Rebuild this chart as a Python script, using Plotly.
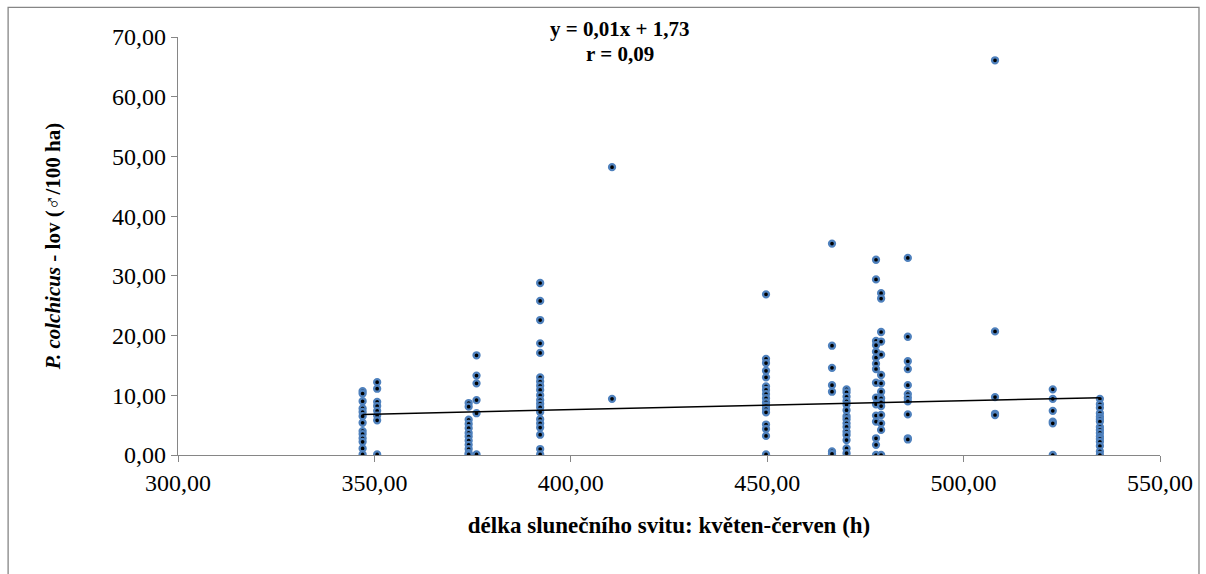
import plotly.graph_objects as go

# x positions (sunshine hours) of each column of observations
column_x = [347.0, 350.7, 374.0, 376.0, 392.2, 410.5, 449.7, 466.5, 470.2,
            477.7, 479.0, 485.8, 508.0, 522.7, 534.7]

# y values (P. colchicus, males / 100 ha) for each column
y_347 = [10.7, 10.3, 9.0, 7.8, 7.2, 6.5, 5.4, 4.0, 3.5, 2.8, 2.2, 1.1, 0.1]
y_351 = [12.2, 11.1, 8.9, 8.2, 7.4, 6.6, 5.8, 0.1]
y_374 = [8.7, 8.1, 5.9, 5.2, 4.5, 3.7, 3.1, 2.4, 1.7, 1.0, 0.3, 0.1]
y_376 = [16.7, 13.3, 12.0, 9.2, 7.0, 0.1]
y_392 = [28.8, 25.8, 22.6, 18.7, 17.1, 13.0, 12.3, 11.6, 10.9, 10.0, 9.2, 8.6,
         8.0, 7.2, 6.0, 5.3, 4.6, 3.4, 1.0, 0.1]
y_410 = [48.2, 9.4]
y_450 = [26.9, 16.1, 15.4, 14.1, 13.0, 11.5, 10.9, 10.2, 9.5, 8.8, 8.25, 7.7,
         7.15, 5.1, 4.35, 3.2, 0.1]
y_467 = [35.4, 18.3, 14.6, 11.7, 10.6, 0.6, 0.2]
y_471 = [11.0, 10.5, 9.75, 9.0, 8.4, 7.5, 6.5, 6.0, 5.3, 4.7, 3.9, 3.35, 2.5,
         1.1, 0.3]
y_478a = [32.7, 29.4, 19.1, 18.4, 17.3, 16.3, 15.3, 14.4, 12.1, 9.6, 8.5, 6.6,
          5.6, 2.8, 1.7, 0.0]
y_479 = [27.1, 26.2, 20.6, 19.0, 16.8, 13.4, 12.0, 10.6, 9.5, 8.8, 8.2, 6.7,
         5.3, 4.2, 0.0]
y_486 = [33.0, 19.8, 15.7, 14.4, 11.7, 10.2, 9.6, 9.0, 6.8, 2.8, 2.6]
y_508 = [66.1, 20.7, 9.7, 6.9, 6.7]
y_523 = [11.0, 9.4, 7.4, 5.6, 5.3, 0.0]
y_535 = [9.4, 8.5, 7.9, 7.0, 6.4, 6.0, 5.6, 4.7, 4.2, 3.7, 3.1, 2.7, 2.2, 1.5,
         0.6, 0.0]

column_y = [y_347, y_351, y_374, y_376, y_392, y_410, y_450, y_467, y_471,
            y_478a, y_479, y_486, y_508, y_523, y_535]

# linear trend
trend_slope = 0.0149
trend_intercept = 1.63

x_ticks = [300, 350, 400, 450, 500, 550]
y_ticks = [0, 10, 20, 30, 40, 50, 60, 70]

equation_text = "y = 0,01x + 1,73"
r_text = "r = 0,09"

xs, ys = [], []
for cx, vals in zip(column_x, column_y):
    for v in vals:
        xs.append(cx)
        ys.append(v)

x_min, x_max = min(xs), max(xs)

FONT = "Liberation Serif"
AXIS_GREY = "#868686"

fig = go.Figure()
fig.add_trace(go.Scatter(
    x=xs, y=ys, mode="markers",
    marker=dict(symbol="circle", size=6, color="black",
                line=dict(color="#4F81BD", width=2.3)),
    showlegend=False, hoverinfo="x+y",
))
fig.add_trace(go.Scatter(
    x=[x_min, x_max],
    y=[trend_slope * x_min + trend_intercept, trend_slope * x_max + trend_intercept],
    mode="lines", line=dict(color="black", width=1.5),
    showlegend=False, hoverinfo="skip",
))

fig.update_layout(
    width=1206, height=574,
    margin=dict(l=178, r=46, t=37, b=119),
    paper_bgcolor="white", plot_bgcolor="white",
    separators=", ",
    font=dict(family=FONT, color="black", size=22),
    xaxis=dict(
        range=[300, 550], tickvals=x_ticks, tickformat=".2f",
        showgrid=False, zeroline=False,
        showline=True, linecolor=AXIS_GREY, linewidth=1.3,
        ticks="outside", ticklen=6, tickcolor=AXIS_GREY, tickwidth=1.3,
        tickfont=dict(family=FONT, size=24),
        title=dict(text="<b>délka slunečního svitu: květen-červen (h)</b>",
                   font=dict(family=FONT, size=23), standoff=21),
    ),
    yaxis=dict(
        range=[0, 70], tickvals=y_ticks, tickformat=".2f",
        showgrid=False, zeroline=False,
        showline=True, linecolor=AXIS_GREY, linewidth=1.3,
        ticks="outside", ticklen=6, tickcolor=AXIS_GREY, tickwidth=1.3,
        tickfont=dict(family=FONT, size=24),
        title=dict(text="<b><i>P. colchicus</i> - lov (♂/100 ha)</b>",
                   font=dict(family=FONT, size=21), standoff=45),
    ),
    annotations=[
        dict(xref="paper", yref="paper", x=0.45, y=(455 - 29) / 418.3,
             xanchor="center", yanchor="middle", showarrow=False,
             text="<b>" + equation_text + "</b>",
             font=dict(family=FONT, size=21)),
        dict(xref="paper", yref="paper", x=0.45, y=(455 - 54) / 418.3,
             xanchor="center", yanchor="middle", showarrow=False,
             text="<b>" + r_text + "</b>",
             font=dict(family=FONT, size=21)),
    ],
    shapes=[dict(
        type="rect", xref="paper", yref="paper",
        x0=-0.173, x1=1.0397, y0=-0.31, y1=1.071,
        line=dict(color=AXIS_GREY, width=1.3), fillcolor="rgba(0,0,0,0)",
        layer="below",
    )],
)

fig.write_html("out.html")
